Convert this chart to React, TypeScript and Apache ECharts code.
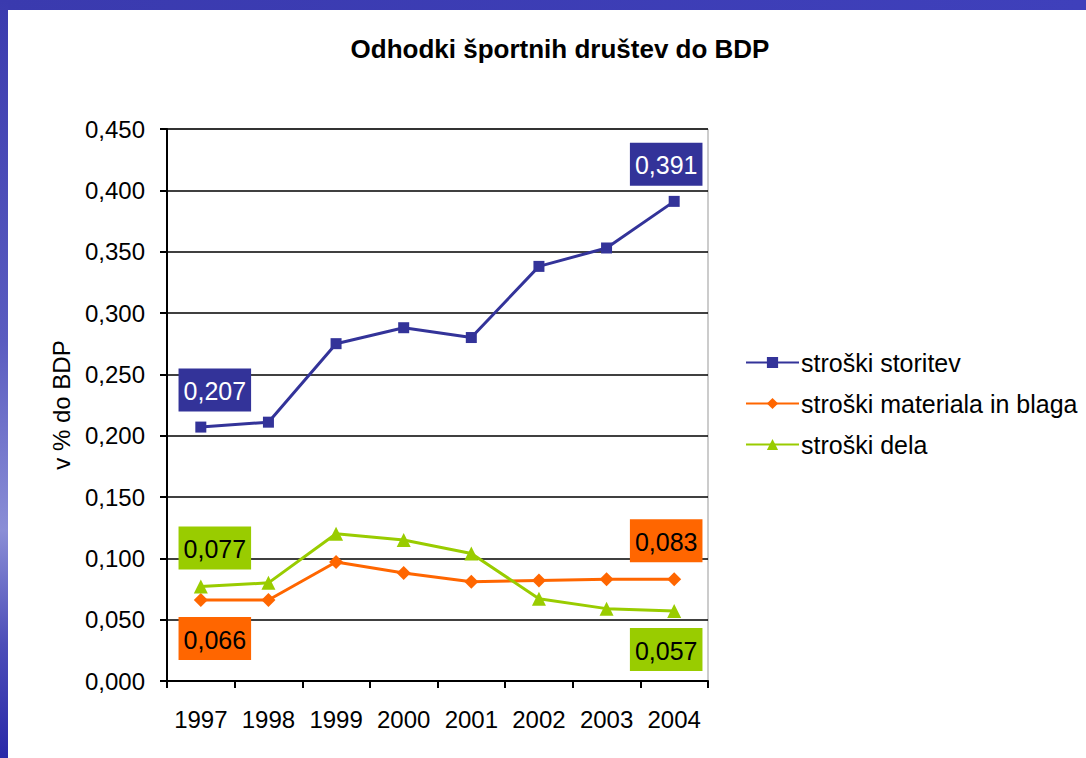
import React, { useEffect, useRef } from "react";
import * as echarts from "echarts";

const years = ["1997", "1998", "1999", "2000", "2001", "2002", "2003", "2004"];
const storitev = [0.207, 0.211, 0.275, 0.288, 0.280, 0.338, 0.353, 0.391];
const materiala = [0.066, 0.066, 0.097, 0.088, 0.081, 0.082, 0.083, 0.083];
const dela = [0.077, 0.080, 0.120, 0.115, 0.104, 0.067, 0.059, 0.057];
const seriesNames = ["stroški storitev", "stroški materiala in blaga", "stroški dela"];
const colors = ["#333399", "#ff6600", "#99cc00"];

const fmt = (v: number) => v.toFixed(3).replace(".", ",");

function withLabels(values: number[], color: string, textColor: string, firstPos: string, lastPos: string) {
  return values.map((v, i) => {
    if (i !== 0 && i !== values.length - 1) return v;
    const isFirst = i === 0;
    return {
      value: v,
      label: {
        show: true,
        position: isFirst ? firstPos : lastPos,
        distance: 10,
        offset: [isFirst ? 14 : -8, 0],
        formatter: () => fmt(v),
        backgroundColor: color,
        color: textColor,
        fontSize: 25,
        fontFamily: "Liberation Sans, Arial, sans-serif",
        padding: [10, 5, 8, 5],
      },
    };
  });
}

export default function App() {
  const ref = useRef<HTMLDivElement>(null);
  useEffect(() => {
    document.body.style.margin = "0";
    const chart = echarts.init(ref.current!, null, { renderer: "svg" });
    const font = "Liberation Sans, Arial, sans-serif";
    chart.setOption({
      animation: false,
      backgroundColor: "#ffffff",
      textStyle: { fontFamily: font },
      graphic: [
        {
          type: "rect",
          shape: { x: 0, y: 0, width: 1086, height: 10 },
          style: {
            fill: new echarts.graphic.LinearGradient(0, 0, 1, 0, [
              { offset: 0, color: "#3a3aae" },
              { offset: 1, color: "#3f40bb" },
            ]),
          },
          z: 10,
        },
        {
          type: "rect",
          shape: { x: 0, y: 0, width: 8, height: 758 },
          style: {
            fill: new echarts.graphic.LinearGradient(0, 0, 0, 1, [
              { offset: 0, color: "#3a3aae" },
              { offset: 0.45, color: "#5a5cc0" },
              { offset: 0.7, color: "#8a8ed6" },
              { offset: 0.85, color: "#4c4db8" },
              { offset: 1, color: "#2a29a8" },
            ]),
          },
          z: 10,
        },
      ],
      title: {
        text: "Odhodki športnih društev do BDP",
        left: 555,
        textAlign: "center",
        top: 31,
        textStyle: { fontSize: 26, fontWeight: "bold", color: "#000", fontFamily: font },
      },
      legend: {
        orient: "vertical",
        left: 740,
        top: 345,
        itemWidth: 53,
        itemHeight: 14,
        itemGap: 16,
        textStyle: { fontSize: 25, color: "#000", fontFamily: font, padding: [0, 0, 0, -3] },
        data: seriesNames,
      },
      grid: {
        left: 167,
        right: 378,
        top: 129,
        bottom: 77,
        show: true,
        borderColor: "#999999",
        borderWidth: 1,
        backgroundColor: "transparent",
      },
      xAxis: {
        type: "category",
        data: years,
        boundaryGap: true,
        axisLine: { lineStyle: { color: "#000", width: 2 } },
        axisTick: { show: true, length: 7, lineStyle: { color: "#000", width: 2 } },
        axisLabel: { color: "#000", fontSize: 24, margin: 26, interval: 0, fontFamily: font },
      },
      yAxis: {
        type: "value",
        min: 0,
        max: 0.45,
        interval: 0.05,
        name: "v % do BDP",
        nameLocation: "middle",
        nameGap: 94,
        nameTextStyle: { fontSize: 24, color: "#000", fontFamily: font },
        axisLine: { show: true, lineStyle: { color: "#000", width: 2 } },
        axisTick: { show: true, length: 7, lineStyle: { color: "#000", width: 2 } },
        axisLabel: { color: "#000", fontSize: 24, margin: 22, formatter: (v: number) => fmt(v), fontFamily: font },
        splitLine: { show: true, lineStyle: { color: "#000", width: 1.5 } },
      },
      series: [
        {
          name: seriesNames[0],
          type: "line",
          data: withLabels(storitev, colors[0], "#ffffff", "top", "top"),
          color: colors[0],
          lineStyle: { width: 3, color: colors[0] },
          symbol: "rect",
          symbolSize: 11,
          itemStyle: { color: colors[0] },
        },
        {
          name: seriesNames[1],
          type: "line",
          data: withLabels(materiala, colors[1], "#000000", "bottom", "top"),
          color: colors[1],
          lineStyle: { width: 3, color: colors[1] },
          symbol: "diamond",
          symbolSize: 14,
          itemStyle: { color: colors[1] },
        },
        {
          name: seriesNames[2],
          type: "line",
          data: withLabels(dela, colors[2], "#000000", "top", "bottom"),
          color: colors[2],
          lineStyle: { width: 3, color: colors[2] },
          symbol: "triangle",
          symbolSize: 14,
          itemStyle: { color: colors[2] },
        },
      ],
    });
    return () => chart.dispose();
  }, []);
  return <div ref={ref} style={{ width: 1086, height: 758 }} />;
}
